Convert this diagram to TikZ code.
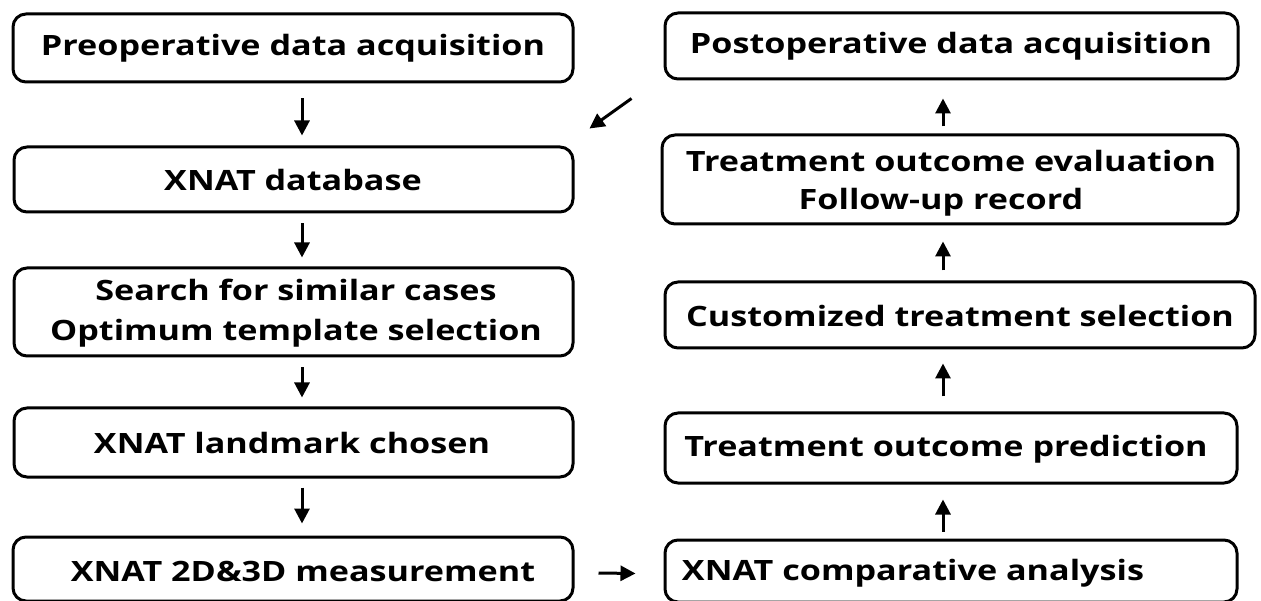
\documentclass[tikz,border=0pt]{standalone}
\usepackage{fontspec}
\setmainfont{Open Sans}[BoldFont={* Bold}]
\usetikzlibrary{arrows.meta}
\tikzset{
  box/.style={draw=black, line width=3pt, rounded corners=13pt, fill=white, inner sep=0pt},
  txt/.style={font=\fontsize{28}{40}\selectfont\bfseries, align=center, inner sep=0pt, anchor=center, xscale=1.22},
  arr/.style={line width=3pt, -{Triangle[length=15pt,width=15pt]}}
}
\begin{document}
\begin{tikzpicture}[x=1pt,y=-1pt]
\useasboundingbox (0,0) rectangle (1261,601);
\coordinate (lx) at (302,0);
\coordinate (rx) at (943,0);
% left column
\node[box, minimum width=560pt, minimum height=68pt] (b1) at (293,48) {};
\node[box, minimum width=559pt, minimum height=65pt] (b2) at (293.5,179.5) {};
\node[box, minimum width=559pt, minimum height=88pt] (b3) at (293.5,312) {};
\node[box, minimum width=559pt, minimum height=69pt] (b4) at (293.5,442.5) {};
\node[box, minimum width=560pt, minimum height=64pt] (b5) at (293,569) {};
% right column
\node[box, minimum width=573pt, minimum height=66pt] (r1) at (951.5,46) {};
\node[box, minimum width=576pt, minimum height=89pt] (r2) at (950,179.5) {};
\node[box, minimum width=590pt, minimum height=66pt] (r3) at (960,315) {};
\node[box, minimum width=572pt, minimum height=70pt] (r4) at (951,448) {};
\node[box, minimum width=572pt, minimum height=62pt] (r5) at (951,571) {};
% texts
\node[txt] (t1) at (293,48) {Preoperative data acquisition};
\node[txt] (t2) at (293,180) {XNAT database};
\node[txt] (t3) at (296,313) {Search for similar cases\\Optimum template selection};
\node[txt] (t4) at (292,443) {XNAT landmark chosen};
\node[txt] (t5) at (303,571) {XNAT 2D\&3D measurement};
\node[txt] (u1) at (951,46) {Postoperative data acquisition};
\node[txt] (u2a) at (951,161) {Treatment outcome evaluation};
\node[txt] (u2b) at (941,202) {Follow-up record};
\node[txt] (u3) at (960,316) {Customized treatment selection};
\node[txt] (u4) at (946,449) {Treatment outcome prediction};
\node[txt] (u5) at (913,573) {XNAT comparative analysis};
% arrows left
\draw[arr, shorten <=15pt, shorten >=10pt] (b1.south -| lx) -- (b2.north -| lx);
\draw[arr, shorten <=10pt, shorten >=9pt] (b2.south -| lx) -- (b3.north -| lx);
\draw[arr, shorten <=10pt, shorten >=9pt] (b3.south -| lx) -- (b4.north -| lx);
\draw[arr, shorten <=9pt, shorten >=12pt] (b4.south -| lx) -- (b5.north -| lx);
% arrows right
\draw[arr, shorten <=7pt, shorten >=15pt] (r5.north -| rx) -- (r4.south -| rx);
\draw[arr, shorten <=15pt, shorten >=14pt] (r4.north -| rx) -- (r3.south -| rx);
\draw[arr, shorten <=10pt, shorten >=16pt] (r3.north -| rx) -- (r2.south -| rx);
\draw[arr, shorten <=7pt, shorten >=18pt] (r2.north -| rx) -- (r1.south -| rx);
% horizontal
\draw[arr] ([shift={(24,4)}]b5.east) -- ([shift={(-28,2.5)}]r5.west);
% diagonal
\draw[arr] ([shift={(-32,18)}]r1.south west) -- ([shift={(15,-17)}]b2.north east);
\end{tikzpicture}
\end{document}
